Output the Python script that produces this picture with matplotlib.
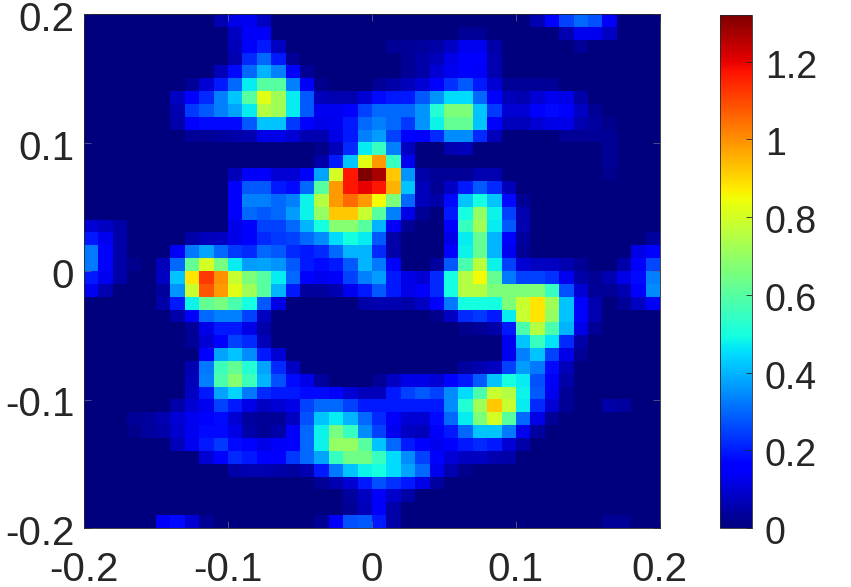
import numpy as np
import matplotlib
matplotlib.use("Agg")
import matplotlib.pyplot as plt
from matplotlib.transforms import ScaledTranslation

# intensity, in hundredths, top row first, 40 x 40 cells
heat_pct = [
    [0,0,0,0,0,0,0,0,0,6, 12,13,8,0,0,0,0,0,0,0, 0,0,0,0,0,0,0,0,0,0, 0,6,15,25,30,27,14,0,0,0],
    [0,0,0,0,0,0,0,0,0,0, 8,14,14,0,0,0,0,0,0,0, 0,0,0,0,0,0,3,3,0,0, 0,0,0,6,13,13,8,0,0,0],
    [0,0,0,0,0,0,0,0,0,0, 7,15,20,8,0,0,0,0,0,0, 0,3,3,4,5,8,13,13,5,0, 0,0,0,0,3,0,0,0,0,0],
    [0,0,0,0,0,0,0,0,0,0, 6,22,30,20,3,0,0,0,0,0, 0,0,3,5,7,12,17,17,6,0, 0,0,0,0,0,0,0,0,0,0],
    [0,0,0,0,0,0,0,0,0,7, 18,30,40,33,15,3,0,0,0,0, 0,0,3,5,10,13,15,14,6,0, 0,0,0,0,0,0,0,0,0,0],
    [0,0,0,0,0,0,0,3,10,20, 30,47,60,60,33,14,2,0,0,0, 3,5,7,10,16,23,28,20,10,3, 3,3,3,0,0,0,0,0,0,0],
    [0,0,0,0,0,0,8,17,22,33, 42,60,82,72,47,28,7,6,6,10, 18,20,20,28,36,45,45,30,17,7, 6,10,13,12,5,0,0,0,0,0],
    [0,0,0,0,0,0,6,24,28,33, 38,47,75,72,47,28,13,13,16,25, 30,30,30,36,52,66,66,42,24,10, 10,15,18,17,8,3,0,0,0,0],
    [0,0,0,0,0,0,5,15,18,18, 18,28,42,42,24,15,12,13,20,30, 33,30,24,36,48,62,62,42,17,7, 7,10,12,12,6,4,2,0,0,0],
    [0,0,0,0,0,0,0,3,3,4, 5,6,12,12,10,6,6,12,20,33, 37,25,17,17,22,35,35,22,7,0, 0,0,0,3,3,3,3,0,0,0],
    [0,0,0,0,0,0,0,0,0,0, 0,0,0,0,0,0,2,7,22,47, 55,33,8,0,0,6,7,0,0,0, 0,0,0,0,0,0,3,0,0,0],
    [0,0,0,0,0,0,0,0,0,0, 0,0,0,0,0,0,5,20,42,82, 98,55,13,0,0,0,0,0,0,0, 0,0,0,0,0,0,3,0,0,0],
    [0,0,0,0,0,0,0,0,0,0, 7,14,14,10,10,15,38,80,117,132, 127,92,36,5,3,3,3,6,6,0, 0,0,0,0,0,0,2,0,0,0],
    [0,0,0,0,0,0,0,0,0,0, 15,28,28,20,18,30,60,98,117,120, 117,95,42,7,3,8,20,28,22,7, 0,0,0,0,0,0,0,0,0,0],
    [0,0,0,0,0,0,0,0,0,0, 15,33,33,30,33,48,75,98,105,98, 85,66,30,7,5,18,42,50,42,18, 3,0,0,0,0,0,0,0,0,0],
    [0,0,0,0,0,0,0,0,0,0, 15,30,28,30,37,48,70,92,92,78, 60,33,12,3,0,20,50,70,48,25, 6,0,0,0,0,0,0,0,0,0],
    [10,8,5,0,0,0,0,0,0,0, 12,17,25,25,30,40,50,68,68,60, 40,14,3,0,0,17,55,72,47,28, 6,0,0,0,0,0,0,0,0,0],
    [20,13,5,0,0,0,0,5,7,8, 12,15,22,24,25,30,35,45,50,47, 28,5,0,0,0,12,47,62,40,15, 4,0,0,0,0,0,0,0,0,4],
    [32,15,5,0,0,0,14,32,38,30, 24,22,30,28,22,20,22,30,40,40, 22,5,0,0,0,17,48,62,40,13, 3,0,0,0,0,0,0,0,12,15],
    [32,15,5,2,0,7,30,62,80,65, 47,37,38,36,28,20,18,20,28,40, 32,15,0,0,4,28,58,76,48,25, 10,8,8,6,3,0,0,5,15,26],
    [20,13,5,0,0,8,42,88,112,100, 78,66,60,47,30,15,13,14,25,33, 37,20,12,10,22,50,75,85,62,32, 25,25,23,13,5,3,6,12,18,33],
    [13,6,0,0,0,4,36,78,108,98, 82,72,60,40,20,4,4,6,13,20, 28,20,12,14,22,50,75,75,66,66, 66,66,55,27,10,3,3,6,15,35],
    [0,0,0,0,0,5,20,48,62,65, 58,50,28,12,0,0,0,0,0,5, 6,6,5,8,15,32,50,50,50,66, 78,88,72,42,17,6,0,3,8,14],
    [0,0,0,0,0,0,5,14,30,33, 33,25,8,0,0,0,0,0,0,0, 0,0,0,0,2,8,22,24,20,47, 78,88,70,42,16,6,0,0,0,0],
    [0,0,0,0,0,0,0,3,12,20, 20,12,5,0,0,0,0,0,0,0, 0,0,0,0,0,0,2,3,5,20, 58,75,58,40,12,3,0,0,0,0],
    [0,0,0,0,0,0,0,3,10,17, 25,22,7,0,0,0,0,0,0,0, 0,0,0,0,0,0,0,0,0,13, 42,55,46,22,5,0,0,0,0,0],
    [0,0,0,0,0,0,0,0,17,38, 42,35,20,10,0,0,0,0,0,0, 0,0,0,0,0,0,0,0,0,13, 33,42,25,12,3,0,0,0,0,0],
    [0,0,0,0,0,0,0,6,32,56, 62,52,38,22,8,0,0,0,0,0, 0,0,0,0,0,0,4,6,8,25, 37,32,18,7,0,0,0,0,0,0],
    [0,0,0,0,0,0,0,7,33,58, 68,56,40,27,18,12,4,0,0,0, 3,8,12,12,10,15,20,28,42,50, 47,27,14,5,0,0,0,0,0,0],
    [0,0,0,0,0,0,0,8,20,38, 44,32,22,20,20,18,18,16,10,7, 7,20,25,28,25,35,45,58,78,75, 48,28,13,3,0,0,0,0,0,0],
    [0,0,0,0,0,0,5,10,13,25, 20,12,8,10,12,25,30,30,25,20, 20,20,20,20,20,35,52,72,92,78, 47,22,10,3,0,0,5,4,0,0],
    [0,0,0,3,4,6,10,13,15,18, 10,4,3,3,8,27,42,47,40,30, 22,14,10,10,18,30,47,66,80,60, 30,12,3,0,0,0,0,0,0,0],
    [0,0,0,2,4,5,9,13,18,18, 12,5,3,5,14,30,48,65,55,35, 25,13,8,7,14,20,30,42,42,32, 13,4,0,0,0,0,0,0,0,0],
    [0,0,0,0,0,0,7,13,20,24, 18,15,12,14,15,30,48,70,70,60, 42,30,20,17,13,17,20,22,20,10, 5,0,0,0,0,0,0,0,0,0],
    [0,0,0,0,0,0,0,0,10,15, 22,20,17,15,24,30,38,55,64,64, 55,45,35,25,17,10,8,8,6,5, 0,0,0,0,0,0,0,0,0,0],
    [0,0,0,0,0,0,0,0,0,0, 5,6,6,5,4,6,20,32,42,48, 50,45,38,30,13,6,2,0,0,0, 0,0,0,0,0,0,0,0,0,0],
    [0,0,0,0,0,0,0,0,0,0, 0,0,0,0,0,0,3,6,10,20, 27,23,20,12,4,0,0,0,0,0, 0,0,0,0,0,0,0,0,0,0],
    [0,0,0,0,0,0,0,0,0,0, 0,0,0,0,0,0,0,0,4,8, 14,9,5,0,0,0,0,0,0,0, 0,0,0,0,0,0,0,0,0,0],
    [0,0,0,0,0,0,0,0,0,0, 0,0,0,0,0,0,0,0,3,7, 14,5,0,0,0,0,0,0,0,0, 0,0,0,0,0,0,0,0,0,0],
    [0,0,0,0,0,14,18,10,3,0, 0,0,0,0,0,0,3,14,27,28, 20,5,0,0,0,0,0,0,0,0, 0,0,0,0,0,0,3,3,0,0],
]
axis_ticks = [-0.2, -0.1, 0, 0.1, 0.2]
axis_labels = ["-0.2", "-0.1", "0", "0.1", "0.2"]
bar_ticks = [0, 0.2, 0.4, 0.6, 0.8, 1, 1.2]
bar_labels = ["0", "0.2", "0.4", "0.6", "0.8", "1", "1.2"]
top_value = 1.32

W, H = 851, 587
TXT = "#262626"
plt.rcParams["font.family"] = ["Liberation Sans", "DejaVu Sans"]
plt.rcParams["font.size"] = 29

fig = plt.figure(figsize=(W / 100, H / 100), dpi=100)
ax = fig.add_axes([84 / W, 1 - 528 / H, 575.5 / W, 514 / H])
cax = fig.add_axes([719.5 / W, 1 - 528 / H, 32 / W, 513 / H])

z = np.array(heat_pct) / 100
im = ax.imshow(z, cmap="jet", vmin=0, vmax=top_value, extent=[-0.2, 0.2, -0.2, 0.2],
               aspect="auto", interpolation="nearest", origin="upper")
ax.set_xticks(axis_ticks, axis_labels)
ax.set_yticks(axis_ticks, axis_labels)
ax.tick_params(direction="in", length=5, width=0.6, color="#5a5a90", labelcolor=TXT,
               top=True, right=True)
ax.tick_params(axis="x", pad=16.5)
ax.tick_params(axis="y", pad=7)

cb = fig.colorbar(im, cax=cax)
cb.set_ticks(bar_ticks, labels=bar_labels)
cb.ax.tick_params(direction="in", length=4.3, width=0.6, color=TXT, labelcolor=TXT,
                  labelsize=27, pad=9.5)

# the labels sit a little below their ticks in the original
nudge = ScaledTranslation(0, -2 / 100, fig.dpi_scale_trans)
for lab in ax.get_yticklabels() + cb.ax.get_yticklabels():
    lab.set_transform(lab.get_transform() + nudge)

for a in [ax, cax]:
    for s in a.spines.values():
        s.set_linewidth(0.6)
        s.set_color(TXT)

fig.savefig("out.png", dpi=100)
